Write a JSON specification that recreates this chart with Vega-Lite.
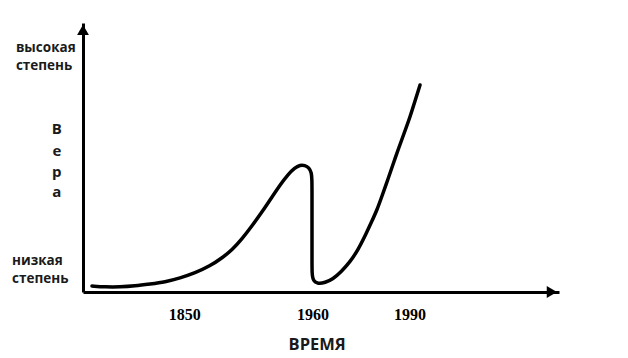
{
  "$schema": "https://vega.github.io/schema/vega-lite/v6.json",
  "width": 476,
  "height": 269,
  "autosize": "none",
  "padding": {"left": 83, "top": 23, "right": 69, "bottom": 66},
  "background": "white",
  "config": {"view": {"stroke": null}},
  "datasets": {
    "curve": [
      {"i": 1, "t": 1.89, "faith": 2.23},
      {"i": 2, "t": 4.62, "faith": 1.86},
      {"i": 3, "t": 7.77, "faith": 1.86},
      {"i": 4, "t": 10.92, "faith": 2.23},
      {"i": 5, "t": 14.08, "faith": 2.97},
      {"i": 6, "t": 17.23, "faith": 3.72},
      {"i": 7, "t": 20.38, "faith": 5.2},
      {"i": 8, "t": 23.53, "faith": 7.06},
      {"i": 9, "t": 26.68, "faith": 9.67},
      {"i": 10, "t": 29.2, "faith": 12.64},
      {"i": 11, "t": 31.3, "faith": 15.61},
      {"i": 12, "t": 33.4, "faith": 19.7},
      {"i": 13, "t": 35.5, "faith": 24.54},
      {"i": 14, "t": 37.61, "faith": 29.74},
      {"i": 15, "t": 39.71, "faith": 35.32},
      {"i": 16, "t": 41.39, "faith": 39.78},
      {"i": 17, "t": 43.07, "faith": 43.7},
      {"i": 18, "t": 44.5, "faith": 46.2},
      {"i": 19, "t": 45.6, "faith": 47.2},
      {"i": 20, "t": 46.6, "faith": 47.1},
      {"i": 21, "t": 47.5, "faith": 46.2},
      {"i": 22, "t": 48.0, "faith": 44.4},
      {"i": 23, "t": 48.11, "faith": 41.64},
      {"i": 24, "t": 48.11, "faith": 34.2},
      {"i": 25, "t": 48.11, "faith": 26.77},
      {"i": 26, "t": 48.11, "faith": 19.33},
      {"i": 27, "t": 48.11, "faith": 11.9},
      {"i": 28, "t": 48.11, "faith": 7.0},
      {"i": 29, "t": 48.3, "faith": 4.2},
      {"i": 30, "t": 49.37, "faith": 3.0},
      {"i": 31, "t": 50.84, "faith": 3.5},
      {"i": 32, "t": 52.52, "faith": 4.83},
      {"i": 33, "t": 54.2, "faith": 7.43},
      {"i": 34, "t": 56.09, "faith": 11.15},
      {"i": 35, "t": 57.77, "faith": 15.61},
      {"i": 36, "t": 59.45, "faith": 21.56},
      {"i": 37, "t": 60.71, "faith": 26.39},
      {"i": 38, "t": 61.76, "faith": 30.48},
      {"i": 39, "t": 62.82, "faith": 35.69},
      {"i": 40, "t": 64.08, "faith": 42.0},
      {"i": 41, "t": 65.2, "faith": 47.8},
      {"i": 42, "t": 66.3, "faith": 53.4},
      {"i": 43, "t": 67.5, "faith": 59.2},
      {"i": 44, "t": 68.7, "faith": 65.06},
      {"i": 45, "t": 69.75, "faith": 71.0},
      {"i": 46, "t": 70.8, "faith": 76.95}
    ],
    "sideLabels": [
      {"t": -14.1, "faith": 89.2, "label": "высокая"},
      {"t": -14.1, "faith": 82.5, "label": "степень"},
      {"t": -14.9, "faith": 10.0, "label": "низкая"},
      {"t": -14.9, "faith": 3.3, "label": "степень"}
    ],
    "vera": [
      {"t": -5.5, "faith": 58.7, "label": "В"},
      {"t": -5.5, "faith": 50.6, "label": "е"},
      {"t": -5.5, "faith": 42.8, "label": "р"},
      {"t": -5.5, "faith": 35.3, "label": "а"}
    ],
    "years": [
      {"t": 21.4, "faith": -10.4, "label": "1850"},
      {"t": 48.3, "faith": -10.4, "label": "1960"},
      {"t": 68.7, "faith": -10.4, "label": "1990"}
    ],
    "xtitle": [{"t": 49.2, "faith": -21.6, "label": "ВРЕМЯ"}],
    "arrowUp": [{"t": 0, "faith": 97.4}],
    "arrowRight": [{"t": 98.5, "faith": 0}]
  },
  "layer": [
    {
      "data": {"name": "curve"},
      "mark": {"type": "line", "color": "black", "strokeWidth": 3.5, "strokeCap": "round", "strokeJoin": "round", "interpolate": "basis"},
      "encoding": {
        "x": {"field": "t", "type": "quantitative", "scale": {"domain": [0, 100], "nice": false, "zero": false},
              "axis": {"labels": false, "ticks": false, "grid": false, "title": null, "domainWidth": 3, "domainColor": "black"}},
        "y": {"field": "faith", "type": "quantitative", "scale": {"domain": [0, 100], "nice": false, "zero": false},
              "axis": {"labels": false, "ticks": false, "grid": false, "title": null, "domainWidth": 3, "domainColor": "black"}},
        "order": {"field": "i", "type": "quantitative"}
      }
    },
    {
      "data": {"name": "arrowUp"},
      "mark": {"type": "point", "shape": "triangle-up", "filled": true, "size": 140, "color": "black", "opacity": 1},
      "encoding": {
        "x": {"field": "t", "type": "quantitative"},
        "y": {"field": "faith", "type": "quantitative"}
      }
    },
    {
      "data": {"name": "arrowRight"},
      "mark": {"type": "point", "shape": "triangle-right", "filled": true, "size": 140, "color": "black", "opacity": 1},
      "encoding": {
        "x": {"field": "t", "type": "quantitative"},
        "y": {"field": "faith", "type": "quantitative"}
      }
    },
    {
      "data": {"name": "sideLabels"},
      "mark": {"type": "text", "align": "left", "baseline": "alphabetic", "font": "Open Sans", "fontWeight": "bold", "fontSize": 13.5, "color": "#1a1a1a"},
      "encoding": {
        "x": {"field": "t", "type": "quantitative"},
        "y": {"field": "faith", "type": "quantitative"},
        "text": {"field": "label"}
      }
    },
    {
      "data": {"name": "vera"},
      "mark": {"type": "text", "align": "center", "baseline": "alphabetic", "font": "Open Sans", "fontWeight": "bold", "fontSize": 15, "color": "#1a1a1a"},
      "encoding": {
        "x": {"field": "t", "type": "quantitative"},
        "y": {"field": "faith", "type": "quantitative"},
        "text": {"field": "label"}
      }
    },
    {
      "data": {"name": "years"},
      "mark": {"type": "text", "align": "center", "baseline": "alphabetic", "font": "Liberation Serif", "fontWeight": "bold", "fontSize": 16, "color": "black"},
      "encoding": {
        "x": {"field": "t", "type": "quantitative"},
        "y": {"field": "faith", "type": "quantitative"},
        "text": {"field": "label"}
      }
    },
    {
      "data": {"name": "xtitle"},
      "mark": {"type": "text", "align": "center", "baseline": "alphabetic", "font": "Open Sans", "fontWeight": "bold", "fontSize": 16.5, "color": "#1a1a1a"},
      "encoding": {
        "x": {"field": "t", "type": "quantitative"},
        "y": {"field": "faith", "type": "quantitative"},
        "text": {"field": "label"}
      }
    }
  ]
}
